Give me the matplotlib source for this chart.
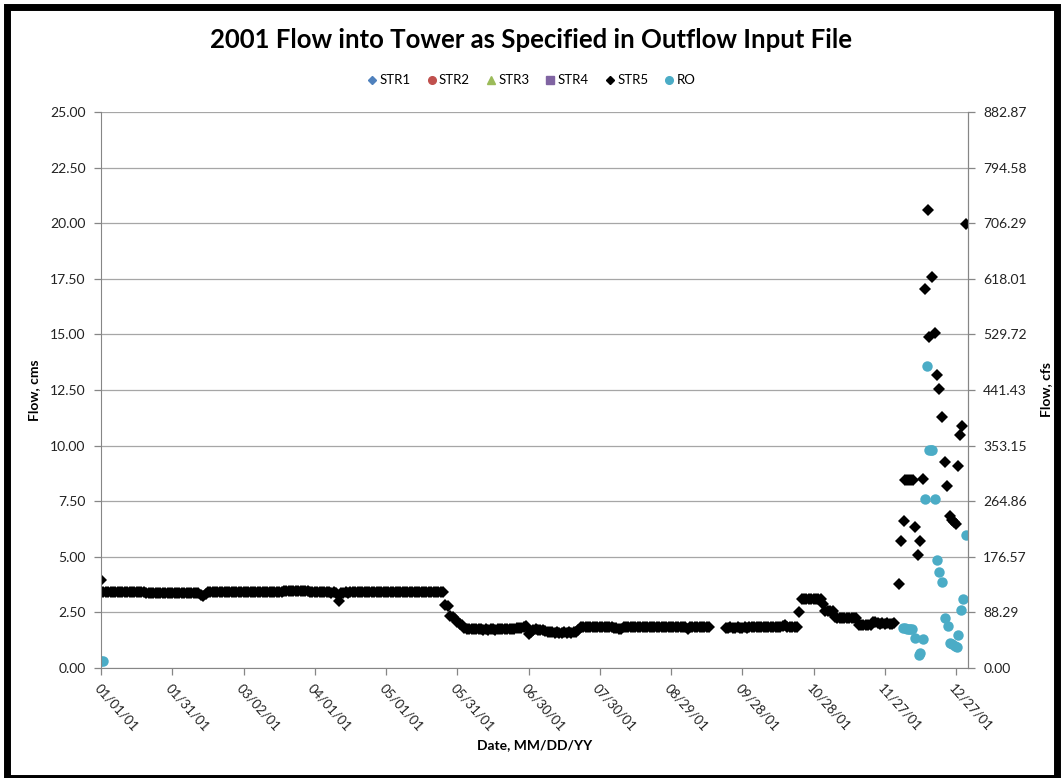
import datetime as dt

import matplotlib
matplotlib.use("Agg")
import matplotlib.dates as mdates
import matplotlib.pyplot as plt
import numpy as np
from matplotlib.lines import Line2D
from matplotlib.patches import Rectangle
from matplotlib.ticker import FixedLocator, FormatStrFormatter

plt.rcParams["font.family"] = ["Lato", "DejaVu Sans"]

CMS_TO_CFS = 35.3147
START = dt.datetime(2001, 1, 1)

# STR5, one value per day from 01/01/01 (nan = no data)
str5_daily = [
    3.95, 3.42, 3.42, 3.41, 3.42, 3.41, 3.42, 3.42, 3.41, 3.42,
    3.41, 3.40, 3.41, 3.42, 3.40, 3.41, 3.40, 3.41, 3.40, 3.39,
    3.39, 3.38, 3.39, 3.38, 3.39, 3.38, 3.38, 3.39, 3.38, 3.38,
    3.38, 3.39, 3.38, 3.37, 3.38, 3.38, 3.37, 3.38, 3.37, 3.38,
    3.37, 3.35, 3.30, 3.24, 3.32, 3.40, 3.40, 3.41, 3.40, 3.40,
    3.41, 3.40, 3.40, 3.41, 3.40, 3.40, 3.40, 3.41, 3.40, 3.40,
    3.40, 3.41, 3.40, 3.40, 3.40, 3.41, 3.40, 3.40, 3.40, 3.41,
    3.40, 3.40, 3.41, 3.40, 3.41, 3.42, 3.43, 3.44, 3.45, 3.45,
    3.46, 3.45, 3.45, 3.46, 3.45, 3.44, 3.45, 3.44, 3.43, 3.42,
    3.42, 3.41, 3.41, 3.40, 3.41, 3.40, 3.40, 3.39, 3.40, 3.39,
    3.00, 3.38, 3.39, 3.40, 3.39, 3.40, 3.40, 3.41, 3.40, 3.40,
    3.41, 3.40, 3.41, 3.42, 3.41, 3.40, 3.41, 3.40, 3.41, 3.42,
    3.41, 3.41, 3.40, 3.41, 3.40, 3.41, 3.42, 3.41, 3.40, 3.41,
    3.40, 3.41, 3.40, 3.40, 3.41, 3.40, 3.41, 3.40, 3.41, 3.40,
    3.41, 3.40, 3.41, 3.40, 3.40, 2.85, 2.80, 2.35, 2.28, 2.22,
    2.05, 2.00, 1.95, 1.82, 1.76, 1.75, 1.75, 1.74, 1.75, 1.74,
    1.74, 1.73, 1.74, 1.73, 1.74, 1.74, 1.73, 1.74, 1.75, 1.74,
    1.75, 1.76, 1.75, 1.76, 1.77, 1.78, 1.79, 1.80, 1.83, 1.90,
    1.55, 1.62, 1.72, 1.74, 1.73, 1.72, 1.70, 1.68, 1.62, 1.60,
    1.60, 1.59, 1.60, 1.59, 1.59, 1.60, 1.59, 1.60, 1.59, 1.60,
    1.61, 1.70, 1.83, 1.85, 1.85, 1.86, 1.85, 1.85, 1.86, 1.85,
    1.85, 1.86, 1.85, 1.85, 1.84, 1.85, 1.82, 1.78, 1.75, 1.76,
    1.84, 1.85, 1.86, 1.85, 1.85, 1.86, 1.85, 1.85, 1.86, 1.85,
    1.85, 1.86, 1.85, 1.85, 1.86, 1.85, 1.85, 1.86, 1.85, 1.85,
    1.86, 1.85, 1.85, 1.86, 1.85, 1.85, 1.85, 1.76, 1.84, 1.85,
    1.85, 1.86, 1.85, 1.85, 1.86, 1.85, 1.85, np.nan, np.nan, np.nan,
    np.nan, np.nan, np.nan, 1.82, 1.82, 1.83, 1.82, 1.82, 1.83, 1.82,
    1.82, 1.83, 1.82, 1.83, 1.84, 1.85, 1.84, 1.85, 1.84, 1.85,
    1.84, 1.85, 1.84, 1.85, 1.85, 1.84, 1.85, 1.90, 1.95, 1.86,
    1.84, 1.85, 1.84, 1.85, 2.53, 3.12, 3.12, 3.11, 3.12, 3.12,
    3.11, 3.12, 3.12, 3.11, 2.88, 2.58, 2.56, 2.58, 2.55, 2.30,
    2.26, 2.26, 2.25, 2.26, 2.26, 2.25, 2.26, 2.26, 2.25, 1.95,
    1.93, 1.94, 1.93, 1.94, 1.95, 2.06, 2.08, 2.02, 2.00, 2.01,
    2.00, 2.01, 2.00, 2.00, 2.01,
]

# STR5, irregular late-season records (day offset from 01/01/01, cms)
str5_late_day = [335.9, 336.8, 337.9, 338.5, 339.3, 340.2, 341.1, 342.0,
                 342.7, 344.0, 344.8, 346.0, 347.0, 348.0, 348.5, 349.8,
                 351.3, 352.1, 353.0, 354.0, 355.2, 356.2, 357.6, 358.3,
                 359.0, 360.0, 360.7, 361.7, 362.7, 364.0]
str5_late_val = [3.78, 5.73, 6.60, 8.45, 8.45, 8.45, 8.44, 8.45,
                 6.35, 5.08, 5.73, 8.50, 17.05, 20.60, 14.90, 17.56,
                 15.05, 13.17, 12.53, 11.27, 9.28, 8.18, 6.83, 6.65,
                 6.58, 6.47, 9.08, 10.48, 10.88, 19.96]

# RO (day offset from 01/01/01, cms)
ro_day = [0.0, 0.8, 337.6, 338.4, 339.2, 340.0, 340.8, 341.6,
          342.9, 344.3, 344.9, 346.0, 347.0, 347.8, 348.7, 349.3,
          349.9, 351.0, 352.0, 353.0, 354.0, 355.2, 356.5, 357.3,
          358.4, 359.4, 360.5, 361.0, 361.9, 362.9, 364.0]
ro_val = [0.33, 0.30, 1.78, 1.78, 1.77, 1.77, 1.76, 1.75,
          1.33, 0.58, 0.66, 1.29, 7.60, 13.58, 9.80, 9.80,
          9.78, 7.60, 4.86, 4.33, 3.88, 2.23, 1.89, 1.11,
          1.07, 1.00, 0.93, 1.48, 2.61, 3.09, 5.98]

# STR1-STR4 carry no flow in this file
str1_day, str1_val = [], []
str2_day, str2_val = [], []
str3_day, str3_val = [], []
str4_day, str4_val = [], []


def to_dates(days):
    return [START + dt.timedelta(days=float(d)) for d in days]


fig = plt.figure(figsize=(10.61, 7.78), dpi=100)
ax = fig.add_axes([0.0952, 0.1414, 0.8171, 0.7147])

ax.plot(to_dates(str1_day), str1_val, "D", color="#4F81BD", ms=6, ls="none")
ax.plot(to_dates(str2_day), str2_val, "o", color="#C0504D", ms=6, ls="none")
ax.plot(to_dates(str3_day), str3_val, "^", color="#9BBB59", ms=6, ls="none")
ax.plot(to_dates(str4_day), str4_val, "s", color="#8064A2", ms=6, ls="none")
daily_dates = to_dates(np.arange(len(str5_daily)))
ax.plot(daily_dates, str5_daily, "D", color="black", ms=6, mew=0, ls="none")
ax.plot(to_dates(str5_late_day), str5_late_val, "D", color="black",
        ms=6, mew=0, ls="none")
ax.plot(to_dates(ro_day), ro_val, "o", color="#4BACC6", ms=7.5, mew=0,
        ls="none")

grid_color = "#a6a6a6"
ax.set_ylim(0, 25)
ax.set_yticks(np.arange(0, 25.01, 2.5))
ax.yaxis.set_major_formatter(FormatStrFormatter("%.2f"))
ax.grid(axis="y", color=grid_color, linewidth=0.9)
ax.set_axisbelow(True)

tick_dates = [START + dt.timedelta(days=30 * i) for i in range(13)]
ax.set_xlim(START, START + dt.timedelta(days=365))
ax.set_xticks(tick_dates)
ax.xaxis.set_major_formatter(mdates.DateFormatter("%m/%d/%y"))

for side in ["left", "right", "bottom"]:
    ax.spines[side].set_color("#868686")
ax.spines["top"].set_visible(False)
ax.tick_params(axis="both", colors="#868686", labelcolor="#222222",
               labelsize=10, length=5, width=0.9)
ax.tick_params(axis="y", pad=6)
ax.tick_params(axis="x", pad=5, labelsize=9.5)
for lbl in ax.get_xticklabels():
    lbl.set_rotation(-48)
    lbl.set_ha("left")
    lbl.set_va("top")
    lbl.set_rotation_mode("anchor")

ax2 = ax.twinx()
ax2.set_ylim(0, 25 * CMS_TO_CFS)
ax2.yaxis.set_major_locator(FixedLocator(np.arange(0, 11) * 2.5 * CMS_TO_CFS))
ax2.yaxis.set_major_formatter(FormatStrFormatter("%.2f"))
for side in ["left", "top", "bottom"]:
    ax2.spines[side].set_visible(False)
ax2.spines["right"].set_color("#868686")
ax2.tick_params(axis="y", colors="#868686", labelcolor="#222222",
                labelsize=10, length=5, width=0.9, pad=6)

ax.set_ylabel("Flow, cms", fontsize=10, fontweight="bold")
ax.yaxis.set_label_coords(-0.0704, 0.5)
ax2.set_ylabel("Flow, cfs", fontsize=10, fontweight="bold")
ax2.yaxis.set_label_coords(1.083, 0.5)
ax.set_xlabel("Date, MM/DD/YY", fontsize=10, fontweight="bold")
ax.xaxis.set_label_coords(0.5, -0.1385)
ax.xaxis.label.set_va("center")

fig.text(0.5, 0.949, "2001 Flow into Tower as Specified in Outflow Input File",
         ha="center", va="center", fontsize=18.5, fontweight="bold")

handles = [
    Line2D([], [], marker="D", color="#4F81BD", ls="none", ms=4.5),
    Line2D([], [], marker="o", color="#C0504D", ls="none", ms=5.5),
    Line2D([], [], marker="^", color="#9BBB59", ls="none", ms=5.5),
    Line2D([], [], marker="s", color="#8064A2", ls="none", ms=5.5),
    Line2D([], [], marker="D", color="black", ls="none", ms=4.5),
    Line2D([], [], marker="o", color="#4BACC6", ls="none", ms=5.5),
]
fig.legend(handles, ["STR1", "STR2", "STR3", "STR4", "STR5", "RO"],
           loc="center", bbox_to_anchor=(0.5, 0.897), ncol=6, frameon=False,
           fontsize=9.5, handletextpad=0.05, columnspacing=1.1,
           handlelength=1.0)

fig.patches.append(Rectangle((0.0066, 0.0), 0.9893, 0.9904, fill=False,
                             edgecolor="black", linewidth=5,
                             transform=fig.transFigure))

fig.savefig("out.png", dpi=100)
